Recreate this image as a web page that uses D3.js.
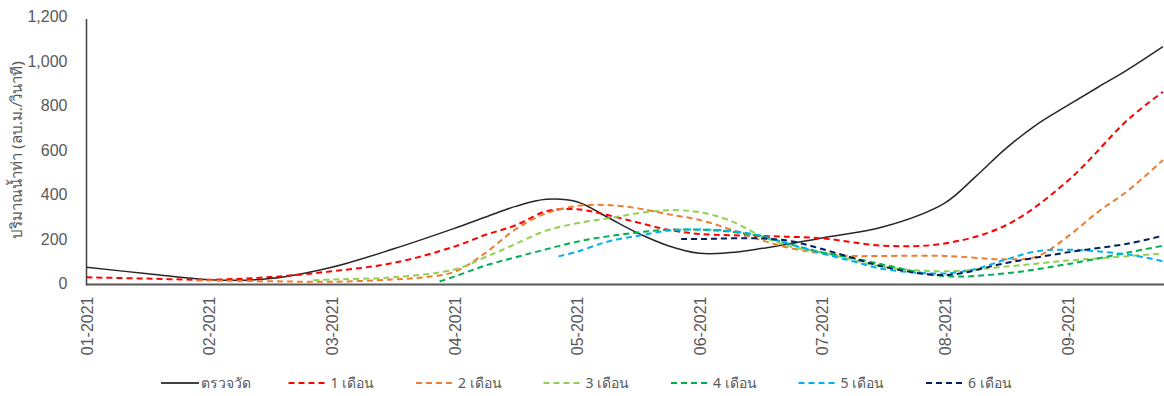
<!DOCTYPE html>
<html><head><meta charset="utf-8">
<script src="https://cdn.jsdelivr.net/npm/d3@7"></script>
<style>
body{margin:0;background:#fff;}
svg{display:block;}
.tick text{font-family:"Liberation Sans Narrow","Arial Narrow","Liberation Sans",sans-serif;}
</style></head>
<body><svg id="c" width="1164" height="396"></svg>
<script>
// ---- data ----
const monthLabels = ["01-2021","02-2021","03-2021","04-2021","05-2021","06-2021","07-2021","08-2021","09-2021"];
const yTicks = [0,200,400,600,800,1000,1200];
const seriesNames = ["ตรวจวัด","1 เดือน","2 เดือน","3 เดือน","4 เดือน","5 เดือน","6 เดือน"];
const seriesColors = ["#000000","#ff0000","#ed7d31","#92d050","#00b050","#00b0f0","#002060"];

// month position (0 = 01-2021) and value (cms)
const obsT = [0,0.5,1,1.5,2,2.5,3,3.25,3.5,3.75,4,4.25,4.5,4.75,5,5.25,5.5,6,6.5,7,7.25,7.5,7.75,8,8.25,8.5,8.78];
const obsV = [73,44,17,22,73,155,248,298,347,379,368,298,226,169,136,139,157,205,255,362,480,608,715,800,883,965,1066];

const f1T = [0,0.5,1,1.5,2,2.5,3,3.25,3.5,3.75,4,4.25,4.5,4.75,5,5.5,6,6.5,7,7.5,8,8.5,8.78];
const f1V = [28,22,17,29,55,92,166,218,262,325,334,308,274,241,223,214,203,170,180,262,460,740,862];

const f2T = [0.9,1.5,2,2.5,2.75,3,3.25,3.5,3.75,4,4.25,4.5,4.75,5,5.25,5.5,5.75,6,6.25,6.5,7,7.5,7.75,8,8.25,8.5,8.78];
const f2V = [14,10,8,18,28,52,136,244,316,349,353,338,311,286,244,196,158,136,124,124,124,109,121,210,322,420,556];

const f3T = [1.85,2,2.5,3,3.25,3.5,3.75,4,4.25,4.5,4.75,5,5.25,5.5,5.75,6,6.5,7,7.5,8,8.5,8.78];
const f3V = [15,18,28,63,118,178,238,271,293,316,330,321,283,215,165,140,75,55,76,103,123,135];

const f4T = [2.88,3,3.25,3.5,3.75,4,4.25,4.5,4.75,5,5.25,5.5,5.75,6,6.25,6.5,7,7.5,8,8.5,8.78];
const f4V = [9,31,80,118,154,188,212,230,242,242,233,212,175,140,115,85,33,46,87,140,170];

const f5T = [3.85,4,4.25,4.5,4.75,5,5.25,5.5,5.75,6,6.25,6.5,7,7.25,7.5,7.75,8,8.5,8.78];
const f5V = [122,143,188,215,238,243,237,215,175,135,100,65,45,65,108,145,152,130,100];

const f6T = [4.85,5,5.5,5.75,6,6.25,6.5,7,7.5,8,8.5,8.78];
const f6V = [200,200,203,190,155,115,76,38,92,140,180,215];

const seriesT = [obsT,f1T,f2T,f3T,f4T,f5T,f6T];
const seriesV = [obsV,f1V,f2V,f3V,f4V,f5V,f6V];

// ---- layout ----
const svg = d3.select("#c");
const plotLeft = 86.5, plotTop = 16.8, plotBottom = 283.5, step = 122.6;
const x = d3.scaleLinear().domain([0, 8.8]).range([plotLeft, plotLeft + 8.8*step]);
const y = d3.scaleLinear().domain([0, 1200]).range([plotBottom, plotTop]);

svg.append("rect").attr("width",1164).attr("height",396).attr("fill","#fff");

svg.append("clipPath").attr("id","clip").append("rect")
  .attr("x", plotLeft).attr("y", 0).attr("width", 1164-plotLeft).attr("height", plotBottom+2);

// y axis labels
const yAxis = d3.axisLeft(y).tickValues(yTicks).tickFormat(d3.format(",")).tickSize(0).tickPadding(19);
const gy = svg.append("g").attr("transform",`translate(${plotLeft},0)`).call(yAxis);
gy.select(".domain").remove();
gy.selectAll("text").attr("fill","#595959").attr("font-size","16px");

// x axis labels
const xAxis = d3.axisBottom(x).tickValues(d3.range(monthLabels.length)).tickFormat(i => monthLabels[i]).tickSize(0);
const gx = svg.append("g").attr("transform",`translate(0,${plotBottom})`).call(xAxis);
gx.select(".domain").remove();
gx.selectAll("text")
  .attr("fill","#595959").attr("font-size","16px")
  .attr("text-anchor","end")
  .attr("transform","rotate(-90)")
  .attr("x",-13).attr("y",0).attr("dy","0.36em");

// axis lines
svg.append("line").attr("x1",plotLeft).attr("x2",1164).attr("y1",plotBottom+1).attr("y2",plotBottom+1)
  .attr("stroke","#595959").attr("stroke-width",2);
svg.append("line").attr("x1",plotLeft).attr("x2",plotLeft).attr("y1",19).attr("y2",plotBottom+2)
  .attr("stroke","#404040").attr("stroke-width",1.5);

// y title
svg.append("text")
  .attr("transform",`translate(22,150) rotate(-90)`)
  .attr("text-anchor","middle")
  .attr("font-family","'Noto Sans','Liberation Sans Narrow',sans-serif")
  .attr("font-size","15px").attr("fill","#595959")
  .text("ปริมาณน้ำท่า (ลบ.ม./วินาที)");

// lines
const line = d3.line().x(d => x(d[0])).y(d => y(d[1])).curve(d3.curveCatmullRom.alpha(0.5));
const gl = svg.append("g").attr("clip-path","url(#clip)");
seriesNames.forEach((name, i) => {
  const pts = seriesT[i].map((t, j) => [t, seriesV[i][j]]);
  gl.append("path").datum(pts)
    .attr("d", line)
    .attr("fill","none")
    .attr("stroke", seriesColors[i])
    .attr("stroke-width", i === 0 ? 1.5 : 2)
    .attr("stroke-dasharray", i === 0 ? null : "6,4")
    .attr("opacity", i === 0 ? 0.85 : 1);
});

// legend
const lg = svg.append("g").attr("transform","translate(161,383)");
seriesNames.forEach((name, i) => {
  const g = lg.append("g").attr("transform",`translate(${i*127.5},0)`);
  g.append("line").attr("x1",0).attr("x2",38).attr("y1",0).attr("y2",0)
    .attr("stroke",seriesColors[i]).attr("stroke-width", i===0?1.5:2)
    .attr("stroke-dasharray", i===0?null:"6,4");
  g.append("text").attr("x", i===0?40:42).attr("y",0).attr("dy","0.35em")
    .attr("font-family","'Noto Sans','Liberation Sans Narrow',sans-serif")
    .attr("font-size","14px").attr("fill","#595959").text(name);
});
</script></body></html>
